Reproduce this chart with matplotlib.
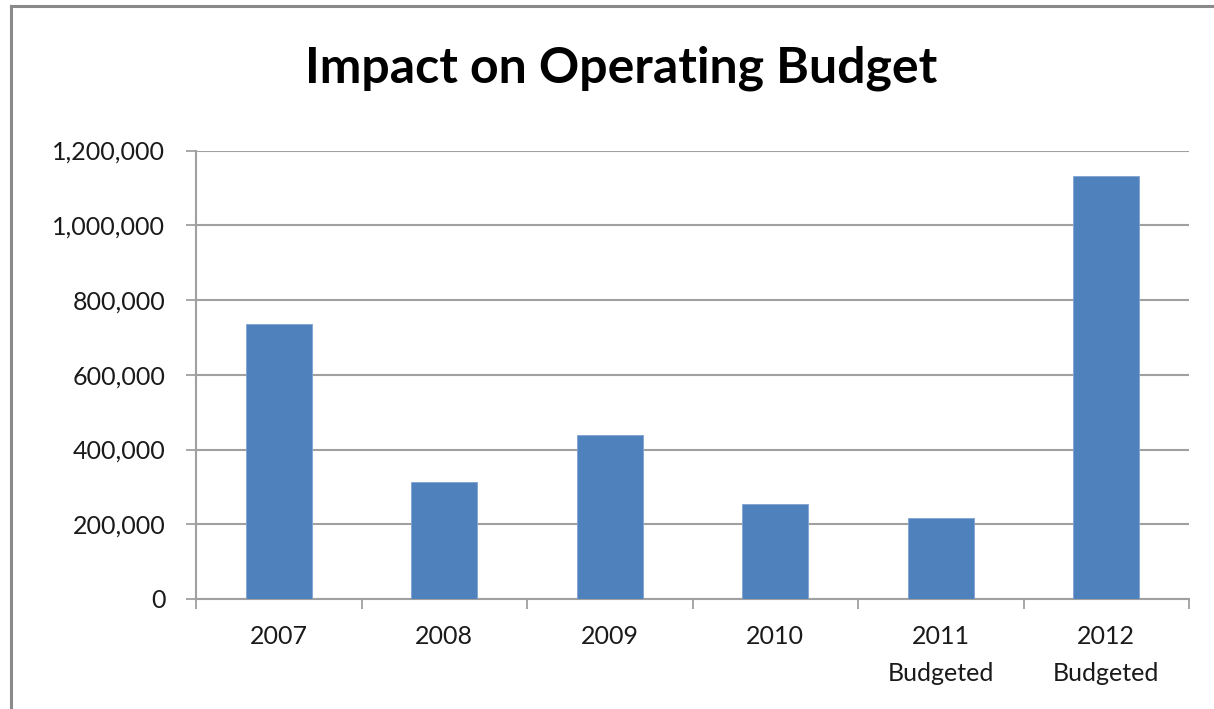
"""Bar chart of the operating budget impact by year."""

import matplotlib

matplotlib.use("Agg")
import matplotlib.pyplot as plt
from matplotlib.lines import Line2D
from matplotlib.ticker import FuncFormatter, MultipleLocator

YEARS = ["2007", "2008", "2009", "2010", "2011\nBudgeted", "2012\nBudgeted"]
IMPACT = [736000, 312000, 440000, 253000, 217000, 1131000]

BAR_COLOR = "#4f81bd"
GRID_COLOR = "#a0a0a0"
TEXT_COLOR = "#1a1a1a"

plt.rcParams["font.family"] = ["Lato", "DejaVu Sans"]

fig = plt.figure(figsize=(12.14, 7.09), dpi=100)
ax = fig.add_axes([196 / 1214, 1 - 599 / 709, (1189 - 196) / 1214, (599 - 150.5) / 709])

positions = range(len(YEARS))
ax.bar(positions, IMPACT, width=0.4, color=BAR_COLOR, edgecolor="#7fa3d3",
       linewidth=0.6, zorder=3)

ax.set_xlim(-0.5, len(YEARS) - 0.5)
ax.set_ylim(0, 1200000)
ax.yaxis.set_major_locator(MultipleLocator(200000))
ax.yaxis.set_major_formatter(FuncFormatter(lambda v, _: f"{int(v):,}"))
ax.grid(axis="y", color=GRID_COLOR, linewidth=1.5, zorder=0)

# category labels centred on bars, tick marks on the boundaries between them
ax.set_xticks([p + 0.5 for p in range(-1, len(YEARS))])
ax.set_xticklabels([])
ax.set_xticks(list(positions), minor=True)
ax.set_xticklabels(YEARS, minor=True, linespacing=1.7)
ax.tick_params(axis="x", which="minor", length=0, pad=19, labelsize=18,
               labelcolor=TEXT_COLOR)
ax.tick_params(axis="x", which="major", length=7, width=1.3, color=GRID_COLOR,
               direction="out")
ax.tick_params(axis="y", length=7, width=1.3, color=GRID_COLOR, pad=15,
               labelsize=18, labelcolor=TEXT_COLOR)

for side in ("top", "right"):
    ax.spines[side].set_visible(False)
for side in ("left", "bottom"):
    ax.spines[side].set_color(GRID_COLOR)
    ax.spines[side].set_linewidth(1.5)

fig.text(621 / 1214, 1 - 68 / 709, "Impact on Operating Budget", ha="center",
         va="center", fontsize=36, fontweight="bold", color="black")

# chart area frame along the top and left edges
fig.add_artist(Line2D([11 / 1214, 11 / 1214], [0, 1 - 6 / 709],
                      color="#8a8a8a", linewidth=2.2, transform=fig.transFigure))
fig.add_artist(Line2D([11 / 1214, 1], [1 - 6 / 709, 1 - 6 / 709],
                      color="#8a8a8a", linewidth=2.2, transform=fig.transFigure))

fig.savefig("out.png", dpi=100, facecolor="white")
